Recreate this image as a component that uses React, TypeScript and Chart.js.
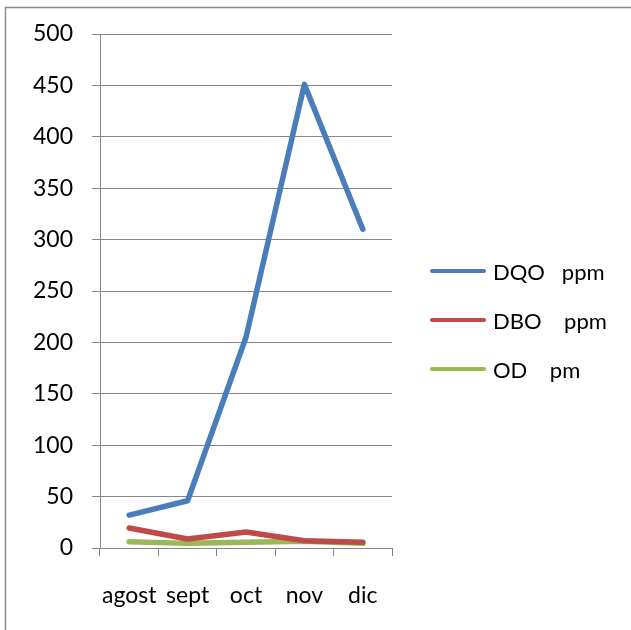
import React, { useEffect, useRef } from "react";
import { Chart, registerables } from "chart.js";

Chart.register(...registerables);

const months = ["agost", "sept", "oct", "nov", "dic"];
const dqo = [32, 46, 205, 451, 310];
const dbo = [19.5, 8.8, 15.6, 7, 5.5];
const od = [6, 4.5, 5.5, 6.5, 4.5];
const seriesLabels = ["DQO   ppm", "DBO    ppm", "OD    pm"];
const seriesColors = ["#4A7EBB", "#BE4B48", "#98B954"];

const FONT = "Lato";
const GRID = "#868686";

const framePlugin = {
  id: "frame",
  beforeDraw(chart: any) {
    const ctx = chart.ctx;
    ctx.save();
    ctx.fillStyle = "#ffffff";
    ctx.fillRect(0, 0, chart.width, chart.height);
    ctx.strokeStyle = "#8c8c8c";
    ctx.lineWidth = 1.5;
    ctx.strokeRect(5.5, 7.5, chart.width + 20, chart.height + 20);
    ctx.restore();
  },
};

const legendPlugin = {
  id: "sideLegend",
  afterDraw(chart: any) {
    const ctx = chart.ctx;
    ctx.save();
    chart.data.datasets.forEach((ds: any, i: number) => {
      const y = 271 + i * 49;
      ctx.strokeStyle = ds.borderColor;
      ctx.lineWidth = 4;
      ctx.lineCap = "round";
      ctx.beginPath();
      ctx.moveTo(432, y);
      ctx.lineTo(484, y);
      ctx.stroke();
      ctx.fillStyle = "#000";
      ctx.font = `22px ${FONT}`;
      ctx.textBaseline = "middle";
      ctx.textAlign = "left";
      ctx.fillText(ds.label, 493, y + 2);
    });
    ctx.restore();
  },
};

export default function App() {
  const ref = useRef<HTMLCanvasElement>(null);
  useEffect(() => {
    if (!ref.current) return;
    const mk = (label: string, data: number[], color: string) => ({
      label,
      data,
      borderColor: color,
      backgroundColor: color,
      borderWidth: 5.5,
      pointRadius: 0,
      borderCapStyle: "round" as const,
      borderJoinStyle: "round" as const,
      tension: 0,
    });
    const chart = new Chart(ref.current, {
      type: "line",
      data: {
        labels: months,
        datasets: [
          mk(seriesLabels[0], dqo, seriesColors[0]),
          mk(seriesLabels[1], dbo, seriesColors[1]),
          mk(seriesLabels[2], od, seriesColors[2]),
        ],
      },
      options: {
        animation: false,
        responsive: false,
        layout: { padding: { left: 0, top: 34, right: 239, bottom: 0 } },
        plugins: { legend: { display: false }, tooltip: { enabled: false } },
        scales: {
          x: {
            offset: true,
            grid: { drawOnChartArea: false, drawTicks: true, tickLength: 8, color: GRID, offset: true },
            border: { color: GRID, width: 1 },
            ticks: { color: "#000", font: { family: FONT, size: 23 }, padding: 26, maxRotation: 0 },
            afterFit: (s: any) => { s.height = 82; },
          },
          y: {
            min: 0,
            max: 500,
            grid: { color: GRID, tickLength: 8 },
            border: { color: GRID, width: 1 },
            ticks: { stepSize: 50, color: "#000", font: { family: FONT, size: 23 }, padding: 19 },
            afterFit: (s: any) => { s.width = 100; },
          },
        },
      },
      plugins: [framePlugin, legendPlugin],
    });
    return () => chart.destroy();
  }, []);
  return (
    <div style={{ position: "absolute", left: 0, top: 0, width: 631, height: 630 }}>
      <canvas ref={ref} width={631} height={630} />
    </div>
  );
}
